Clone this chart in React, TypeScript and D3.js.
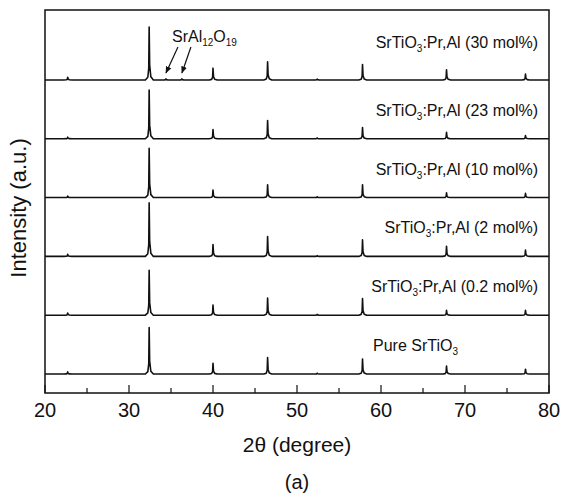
import { useEffect, useRef } from "react";
import * as d3 from "d3";

// Posiciones de los picos (2θ) comunes a todas las muestras
const ANGULOS = [22.7, 32.4, 40.0, 46.5, 52.4, 57.8, 67.8, 77.2];

// Alturas relativas de cada pico, de abajo hacia arriba
const PURO = [4, 87, 20, 31, 1.5, 28, 15, 9];
const PR_02 = [4, 84, 19, 32, 1.5, 31, 9, 9];
const PR_2 = [4, 100, 22, 37, 1.5, 31, 19, 12];
const PR_10 = [3, 92, 14, 24, 1.5, 24, 9, 8];
const PR_23 = [3, 91, 17, 34, 1.5, 21, 12, 6];
const PR_30 = [5, 99, 22, 34, 1.5, 29, 19, 11];

const ETIQUETAS = ["(0.2 mol%)", "(2 mol%)", "(10 mol%)", "(23 mol%)", "(30 mol%)"];

// Picos de la fase secundaria (solo en 30 mol%)
const ANGULOS_SRAL = [34.4, 36.3];
const ALTURAS_SRAL = [2, 2];

const TICKS_MAYORES = [20, 30, 40, 50, 60, 70, 80];
const TICKS_MENORES = [25, 35, 45, 55, 65, 75];

// Forma de cada pico: desplazamiento en grados y fracción de la altura
const PERFIL_DX = [-0.45, -0.16, -0.05, 0, 0.06, 0.2, 0.5];
const PERFIL_FR = [0, 0.05, 0.22, 1, 0.28, 0.06, 0];

interface Punto {
  t: number;
  v: number;
}

const ANCHO = 561;
const ALTO = 500;
const FUENTE = "'Liberation Sans', Arial, Helvetica, sans-serif";

export default function App() {
  const svgRef = useRef<SVGSVGElement>(null);

  useEffect(() => {
    if (!svgRef.current) return;
    const svg = d3.select(svgRef.current);
    svg.selectAll("*").remove();

    const izq = 45;
    const der = 549;
    const arriba = 10;
    const abajo = 393;
    const SEPARACION = 110;

    const x = d3.scaleLinear().domain([20, 80]).range([izq, der]);
    const y = d3.scaleLinear().domain([-35.5, 680.8]).range([abajo, arriba]);

    const series = [PURO, PR_02, PR_2, PR_10, PR_23, PR_30];

    const linea = d3
      .line<Punto>()
      .x((d) => x(d.t))
      .y((d) => y(d.v));

    series.forEach((alturas, i) => {
      const base = i * SEPARACION;
      const picos = ANGULOS.map((a, k) => ({ a, h: alturas[k] }));
      if (i === series.length - 1) {
        ANGULOS_SRAL.forEach((a, k) => picos.push({ a, h: ALTURAS_SRAL[k] }));
      }
      picos.sort((p, q) => p.a - q.a);
      const puntos: Punto[] = [{ t: 20, v: base }];
      picos.forEach((p) => {
        PERFIL_DX.forEach((dx, j) => puntos.push({ t: p.a + dx, v: base + p.h * PERFIL_FR[j] }));
      });
      puntos.push({ t: 80, v: base });

      svg
        .append("path")
        .datum(puntos)
        .attr("d", linea)
        .attr("fill", "none")
        .attr("stroke", "#111")
        .attr("stroke-width", 1.6)
        .attr("stroke-linejoin", "round");
    });

    // Etiquetas de cada muestra
    const etiquetaY = (i: number) => (i === series.length - 1 ? 48 : y(i * SEPARACION) - 23);
    series.forEach((_, i) => {
      const t = svg
        .append("text")
        .attr("x", 538)
        .attr("y", etiquetaY(i))
        .attr("text-anchor", i === 0 ? "start" : "end")
        .attr("font-family", FUENTE)
        .attr("font-size", 16)
        .attr("fill", "#111");
      if (i === 0) {
        t.attr("x", 373);
        t.append("tspan").text("Pure SrTiO");
        t.append("tspan").attr("font-size", 10).attr("dy", 4).text("3");
      } else {
        t.append("tspan").text("SrTiO");
        t.append("tspan").attr("font-size", 10).attr("dy", 4).text("3");
        t.append("tspan").attr("dy", -4).text(":Pr,Al " + ETIQUETAS[i - 1]);
      }
    });

    // SrAl12O19 con sus flechas
    const sral = svg
      .append("text")
      .attr("x", 172)
      .attr("y", 42)
      .attr("font-family", FUENTE)
      .attr("font-size", 16)
      .attr("fill", "#111");
    sral.append("tspan").text("SrAl");
    sral.append("tspan").attr("font-size", 10).attr("dy", 4).text("12");
    sral.append("tspan").attr("dy", -4).text("O");
    sral.append("tspan").attr("font-size", 10).attr("dy", 4).text("19");

    const defs = svg.append("defs");
    defs
      .append("marker")
      .attr("id", "punta")
      .attr("viewBox", "0 0 10 10")
      .attr("refX", 9)
      .attr("refY", 5)
      .attr("markerWidth", 6)
      .attr("markerHeight", 6)
      .attr("orient", "auto")
      .append("path")
      .attr("d", "M0,1 L10,5 L0,9 Z")
      .attr("fill", "#111");

    const baseArriba = y((series.length - 1) * SEPARACION);
    ANGULOS_SRAL.forEach((a, k) => {
      svg
        .append("line")
        .attr("x1", x(a) + 12 - k * 3)
        .attr("y1", 47)
        .attr("x2", x(a))
        .attr("y2", baseArriba - 7)
        .attr("stroke", "#111")
        .attr("stroke-width", 1.2)
        .attr("marker-end", "url(#punta)");
    });

    // Marco
    svg
      .append("rect")
      .attr("x", izq)
      .attr("y", arriba)
      .attr("width", der - izq)
      .attr("height", abajo - arriba)
      .attr("fill", "none")
      .attr("stroke", "#111")
      .attr("stroke-width", 1.5);

    // Ticks hacia dentro en el eje inferior
    svg
      .append("g")
      .selectAll("line.mayor")
      .data(TICKS_MAYORES)
      .enter()
      .append("line")
      .attr("x1", (d) => x(d))
      .attr("x2", (d) => x(d))
      .attr("y1", abajo)
      .attr("y2", abajo - 8)
      .attr("stroke", "#111")
      .attr("stroke-width", 1.2);
    svg
      .append("g")
      .selectAll("line.menor")
      .data(TICKS_MENORES)
      .enter()
      .append("line")
      .attr("x1", (d) => x(d))
      .attr("x2", (d) => x(d))
      .attr("y1", abajo)
      .attr("y2", abajo - 5)
      .attr("stroke", "#111")
      .attr("stroke-width", 1.2);

    svg
      .append("g")
      .selectAll("text")
      .data(TICKS_MAYORES)
      .enter()
      .append("text")
      .attr("x", (d) => x(d))
      .attr("y", 417)
      .attr("text-anchor", "middle")
      .attr("font-family", FUENTE)
      .attr("font-size", 20)
      .attr("fill", "#111")
      .text((d) => String(d));

    svg
      .append("text")
      .attr("x", (izq + der) / 2)
      .attr("y", 452)
      .attr("text-anchor", "middle")
      .attr("font-family", FUENTE)
      .attr("font-size", 21)
      .attr("fill", "#111")
      .text("2θ (degree)");

    svg
      .append("text")
      .attr("x", (izq + der) / 2)
      .attr("y", 489)
      .attr("text-anchor", "middle")
      .attr("font-family", FUENTE)
      .attr("font-size", 20)
      .attr("fill", "#111")
      .text("(a)");

    svg
      .append("text")
      .attr("transform", `translate(26,208) rotate(-90)`)
      .attr("text-anchor", "middle")
      .attr("font-family", FUENTE)
      .attr("font-size", 22)
      .attr("fill", "#111")
      .text("Intensity (a.u.)");
  }, []);

  return (
    <svg
      ref={svgRef}
      width={ANCHO}
      height={ALTO}
      viewBox={`0 0 ${ANCHO} ${ALTO}`}
      style={{ display: "block", position: "absolute", left: 0, top: 0, background: "#fff" }}
    />
  );
}
